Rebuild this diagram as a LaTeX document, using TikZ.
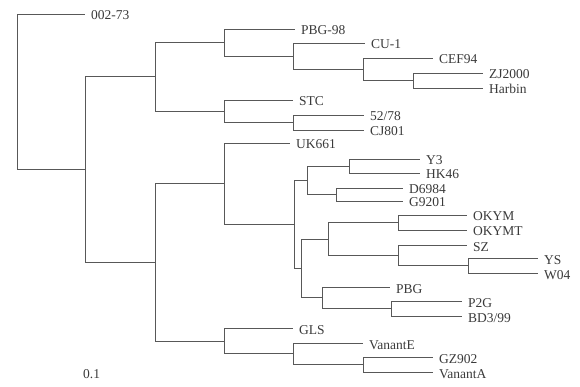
\documentclass[tikz,border=0pt]{standalone}
\usepackage{fontspec}
\setmainfont{Liberation Serif}
\usepackage{tikz}
\definecolor{TreeGray}{HTML}{585858}
\definecolor{LabelGray}{HTML}{3A3A3A}

\begin{document}
\begin{tikzpicture}[
    x=1pt,y=-1pt,
    branch/.style={draw=TreeGray,line width=0.8pt},
    leaf/.style={anchor=west,inner xsep=6pt,inner ysep=0pt,
      text height=12pt,text depth=0pt,color=LabelGray,
      font=\fontsize{13.5}{16}\selectfont}
  ]
    \useasboundingbox (0,0) rectangle (580,387);
    % inner nodes of the tree
    \coordinate (root) at (17,91.8);
    \coordinate (ca) at (85,169.6);
    \coordinate (cb) at (155,76.9);
    \coordinate (cc) at (155,262.3);
    \coordinate (cpbg) at (224,42.6);
    \coordinate (ccu) at (293,56.1);
    \coordinate (ccef) at (363,69.2);
    \coordinate (czj) at (413,80.5);
    \coordinate (cstc) at (224,111.2);
    \coordinate (c52) at (293,122.5);
    \coordinate (cuk) at (224,183.6);
    \coordinate (ce) at (294,224.3);
    \coordinate (cf) at (307,180.2);
    \coordinate (cy3) at (349,166);
    \coordinate (cd69) at (336,194.5);
    \coordinate (cg) at (301,268.3);
    \coordinate (ch) at (328,238.9);
    \coordinate (cok) at (398,222.5);
    \coordinate (csz) at (398,255.2);
    \coordinate (cys) at (468,265.5);
    \coordinate (ci) at (322,297.7);
    \coordinate (cp2g) at (391,308.5);
    \coordinate (cgls) at (224,340.9);
    \coordinate (cve) at (293,353.7);
    \coordinate (cgz) at (363,364.5);
    % leaves
    \node[leaf] (l00273) at (85,14) {002-73};
    \node[leaf] (pbg98) at (295,29) {PBG-98};
    \node[leaf] (cu1) at (365,43) {CU-1};
    \node[leaf] (cef94) at (433,58) {CEF94};
    \node[leaf] (zj2000) at (483,73) {ZJ2000};
    \node[leaf] (harbin) at (483,88) {Harbin};
    \node[leaf] (stc) at (293,100) {STC};
    \node[leaf] (l5278) at (364,115) {52/78};
    \node[leaf] (cj801) at (364,130) {CJ801};
    \node[leaf] (uk661) at (290,143) {UK661};
    \node[leaf] (y3) at (420,159) {Y3};
    \node[leaf] (hk46) at (420,173) {HK46};
    \node[leaf] (d6984) at (403,188) {D6984};
    \node[leaf] (g9201) at (403,201) {G9201};
    \node[leaf] (okym) at (467,215) {OKYM};
    \node[leaf] (okymt) at (467,230) {OKYMT};
    \node[leaf] (sz) at (467,245) {SZ};
    \node[leaf] (ys) at (538,258) {YS};
    \node[leaf] (w04) at (538,273) {W04};
    \node[leaf] (pbg) at (390,287) {PBG};
    \node[leaf] (p2g) at (462,301) {P2G};
    \node[leaf] (bd399) at (462,316) {BD3/99};
    \node[leaf] (gls) at (293,328) {GLS};
    \node[leaf] (vare) at (363,343) {VanantE};
    \node[leaf] (gz902) at (433,357) {GZ902};
    \node[leaf] (vara) at (433,372) {VanantA};
    \node[leaf,inner xsep=0pt] (scale) at (83,372) {0.1};
    % branches
    \foreach \p/\q in {root/l00273,root/ca,ca/cb,ca/cc,
        cb/cpbg,cb/cstc,cpbg/pbg98,cpbg/ccu,ccu/cu1,ccu/ccef,
        ccef/cef94,ccef/czj,czj/zj2000,czj/harbin,
        cstc/stc,cstc/c52,c52/l5278,c52/cj801,
        cc/cuk,cc/cgls,cuk/uk661,cuk/ce,ce/cf,ce/cg,
        cf/cy3,cf/cd69,cy3/y3,cy3/hk46,cd69/d6984,cd69/g9201,
        cg/ch,cg/ci,ch/cok,ch/csz,cok/okym,cok/okymt,
        csz/sz,csz/cys,cys/ys,cys/w04,ci/pbg,ci/cp2g,
        cp2g/p2g,cp2g/bd399,cgls/gls,cgls/cve,cve/vare,cve/cgz,
        cgz/gz902,cgz/vara}
      \draw[branch] (\p) |- (\q);
  \end{tikzpicture}
\end{document}
